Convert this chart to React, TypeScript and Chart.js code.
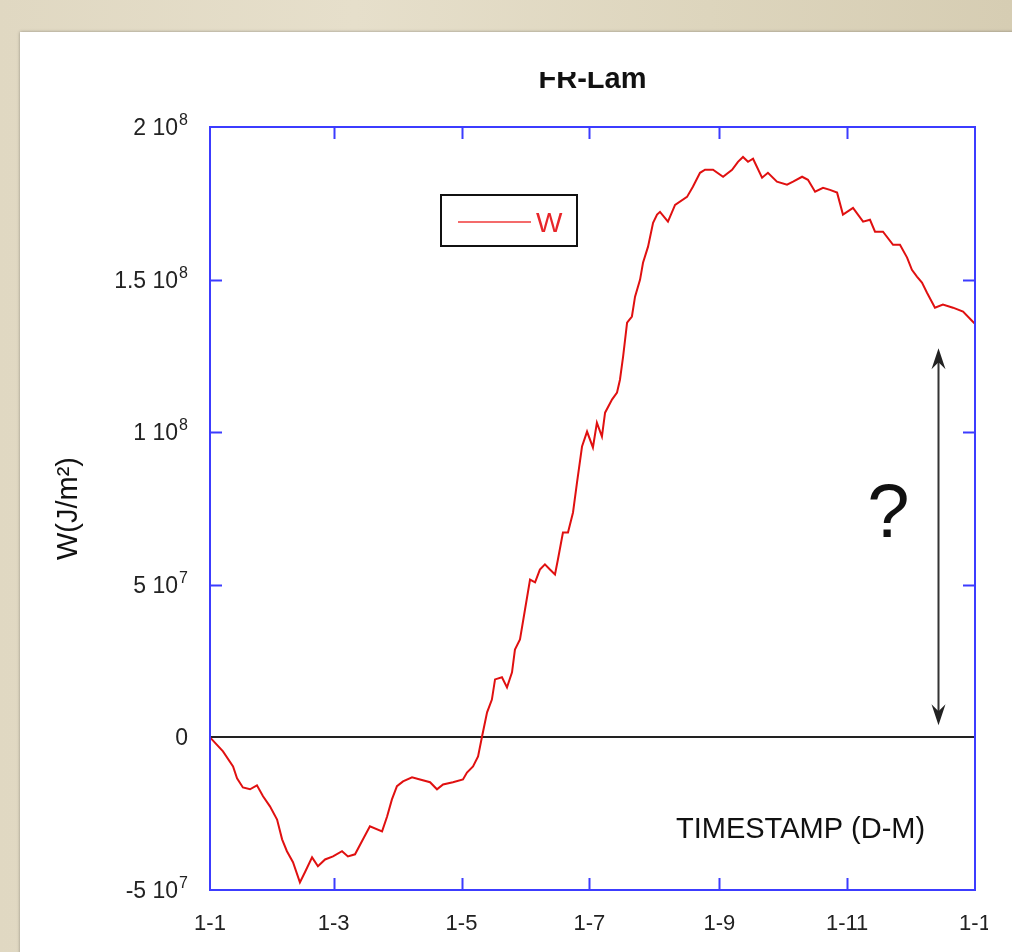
import React, { useEffect, useRef } from 'react';
import { Chart, registerables } from 'chart.js';

Chart.register(...registerables);

// Day of year (0 = 1 Jan) for each sample of W
const dayOfYear = [
  0, 6.2, 11.0, 12.9, 15.7, 19.1, 22.4, 25.3, 28.6, 32.0,
  34.4, 36.7, 39.6, 42.9, 45.3, 48.7, 51.5, 54.9, 58.7, 63.0,
  65.8, 69.2, 73.0, 76.3, 82.1, 84.5, 86.8, 89.2, 92.1, 96.4,
  100.2, 105.0, 108.3, 111.2, 115.9, 120.7, 122.6, 125.5, 127.9, 129.8,
  132.2, 134.5, 136.0, 139.3, 141.7, 144.1, 145.5, 147.9, 150.3, 152.7,
  155.1, 157.4, 159.8, 162.2, 164.6, 166.0, 168.4, 170.8, 173.2, 175.1,
  177.5, 179.9, 182.7, 184.6, 187.0, 188.5, 191.8, 194.2, 195.6, 197.1,
  199.0, 201.3, 202.8, 205.2, 206.6, 209.0, 211.4, 213.3, 214.7, 218.5,
  221.9, 227.6, 230.4, 233.8, 236.2, 240.0, 244.8, 249.1, 251.9, 254.3,
  256.7, 259.1, 263.4, 266.2, 270.5, 275.3, 278.2, 282.5, 285.3, 288.7,
  292.5, 295.8, 299.2, 302.0, 306.8, 311.6, 314.9, 317.3, 321.1, 325.9,
  329.2, 332.6, 334.9, 337.3, 339.7, 342.1, 345.9, 349.7, 354.5, 359.3,
  364.0, 365,
];

// W in units of 10^6 J/m²
const wValuesE6 = [
  0, -4.6, -9.5, -13.4, -16.4, -17.0, -15.7, -19.3, -22.6, -26.9,
  -33.4, -37.3, -40.9, -47.5, -44.2, -39.3, -42.2, -40.0, -39.0, -37.3,
  -39.0, -38.3, -33.4, -29.1, -30.8, -25.9, -20.3, -16.0, -14.4, -13.1,
  -13.8, -14.7, -17.0, -15.4, -14.7, -13.8, -11.5, -9.5, -6.2, 0.3,
  8.2, 12.4, 19.0, 19.7, 16.4, 21.3, 28.8, 32.1, 41.9, 51.7,
  50.8, 55.0, 56.7, 55.0, 53.4, 58.3, 67.1, 67.1, 73.7, 83.5,
  95.3, 100.2, 95.0, 103.1, 98.6, 106.4, 110.7, 113.0, 117.2, 124.8,
  135.9, 137.9, 144.4, 150.0, 155.5, 160.8, 168.6, 171.3, 172.2, 169.0,
  174.5, 177.1, 180.4, 185.0, 186.0, 186.0, 183.7, 186.0, 188.6, 190.2,
  188.6, 189.6, 183.4, 185.0, 182.1, 181.1, 182.1, 183.7, 182.7, 178.8,
  180.1, 179.4, 178.5, 171.3, 173.5, 169.0, 169.6, 165.7, 165.7, 161.4,
  161.4, 157.2, 153.2, 151.0, 149.0, 145.7, 140.8, 141.8, 140.8, 139.5,
  136.2, 135.5,
];

const xTickDays = [0, 59, 120, 181, 243, 304, 365];
const xTickLabels = ['1-1', '1-3', '1-5', '1-7', '1-9', '1-11', '1-1'];
const yTickValues = [-5e7, 0, 5e7, 1e8, 1.5e8, 2e8];
const yTickMantissa = ['-5 10', '0', '5 10', '1 10', '1.5 10', '2 10'];
const yTickExponent = ['7', '', '7', '8', '8', '8'];

const chartTitle = 'FR-Lam';
const seriesName = 'W';
const yAxisTitle = 'W(J/m\u00B2)';
const xAxisTitle = 'TIMESTAMP (D-M)';

// annotation: double arrow with question mark (data units)
const arrowDay = 347.3;
const arrowFromValue = 4.0e6;
const arrowToValue = 1.275e8;
const arrowText = '?';

const FONT = '"Liberation Sans", Arial, sans-serif';
const BLUE = '#3c3cff';
const TICK_FONT = 23;
const EXP_FONT = 16;

function drawArrowHead(ctx: CanvasRenderingContext2D, x: number, y: number, dir: number) {
  ctx.beginPath();
  ctx.moveTo(x, y);
  ctx.lineTo(x - 7, y - dir * 21);
  ctx.lineTo(x, y - dir * 14);
  ctx.lineTo(x + 7, y - dir * 21);
  ctx.closePath();
  ctx.fill();
}

const decorPlugin = {
  id: 'decor',
  afterDatasetsDraw(chart: any) {
    const { ctx, chartArea } = chart;
    const xs = chart.scales.x;
    const ys = chart.scales.y;
    const { left, right, top, bottom } = chartArea;
    ctx.save();

    // inward ticks
    ctx.strokeStyle = BLUE;
    ctx.lineWidth = 2;
    ctx.beginPath();
    yTickValues.forEach((v, i) => {
      if (i === 0 || i === yTickValues.length - 1 || v === 0) return;
      const py = Math.round(ys.getPixelForValue(v)) + 0.5;
      ctx.moveTo(left, py);
      ctx.lineTo(left + 12, py);
      ctx.moveTo(right, py);
      ctx.lineTo(right - 12, py);
    });
    xTickDays.forEach((d, i) => {
      if (i === 0 || i === xTickDays.length - 1) return;
      const px = Math.round(xs.getPixelForValue(d)) + 0.5;
      ctx.moveTo(px, bottom);
      ctx.lineTo(px, bottom - 12);
      ctx.moveTo(px, top);
      ctx.lineTo(px, top + 12);
    });
    ctx.stroke();

    // frame
    ctx.strokeRect(left, top, right - left, bottom - top);

    // y tick labels with raised exponents
    const labelRight = left - 22;
    yTickValues.forEach((v, i) => {
      const py = ys.getPixelForValue(v);
      const exp = yTickExponent[i];
      ctx.fillStyle = '#222';
      ctx.font = `${EXP_FONT}px ${FONT}`;
      const expW = exp ? ctx.measureText(exp).width : 0;
      if (exp) {
        ctx.textAlign = 'right';
        ctx.textBaseline = 'alphabetic';
        ctx.fillText(exp, labelRight, py - 2);
      }
      ctx.font = `${TICK_FONT}px ${FONT}`;
      ctx.textAlign = 'right';
      ctx.textBaseline = 'alphabetic';
      ctx.fillText(yTickMantissa[i], labelRight - (exp ? expW + 1 : 0), py + 8);
    });

    // legend box
    const lx = left + 231;
    const ly = top + 68;
    ctx.fillStyle = '#ffffff';
    ctx.fillRect(lx, ly, 136, 51);
    ctx.strokeStyle = '#111';
    ctx.lineWidth = 2;
    ctx.strokeRect(lx, ly, 136, 51);
    ctx.strokeStyle = '#f03a3a';
    ctx.lineWidth = 1.5;
    ctx.beginPath();
    ctx.moveTo(lx + 17, ly + 27);
    ctx.lineTo(lx + 90, ly + 27);
    ctx.stroke();
    ctx.fillStyle = '#e8262a';
    ctx.font = `28px ${FONT}`;
    ctx.textAlign = 'left';
    ctx.textBaseline = 'alphabetic';
    ctx.fillText(seriesName, lx + 95, ly + 37);

    // x axis title inside plot
    ctx.fillStyle = '#111';
    ctx.font = `29px ${FONT}`;
    ctx.fillText(xAxisTitle, left + 466, bottom - 52);

    // arrow
    const ax = Math.round(xs.getPixelForValue(arrowDay)) + 0.5;
    const ay1 = ys.getPixelForValue(arrowToValue);
    const ay2 = ys.getPixelForValue(arrowFromValue);
    ctx.strokeStyle = '#333';
    ctx.fillStyle = '#222';
    ctx.lineWidth = 2;
    ctx.beginPath();
    ctx.moveTo(ax, ay1 + 10);
    ctx.lineTo(ax, ay2 - 10);
    ctx.stroke();
    drawArrowHead(ctx, ax, ay1, -1);
    drawArrowHead(ctx, ax, ay2, 1);

    ctx.fillStyle = '#111';
    ctx.font = `76px ${FONT}`;
    ctx.textAlign = 'center';
    ctx.fillText(arrowText, ax - 50, (ay1 + ay2) / 2);

    // title (top clipped, as in the reference)
    ctx.save();
    ctx.beginPath();
    ctx.rect(0, 72, chart.width, chart.height);
    ctx.clip();
    ctx.fillStyle = '#111';
    ctx.font = `bold 29px ${FONT}`;
    ctx.textAlign = 'center';
    ctx.fillText(chartTitle, (left + right) / 2, 88);
    ctx.restore();

    ctx.restore();
  },
};

export default function App() {
  const canvasRef = useRef<HTMLCanvasElement | null>(null);

  useEffect(() => {
    if (!canvasRef.current) return;
    const chart = new Chart(canvasRef.current, {
      type: 'line',
      data: {
        datasets: [
          {
            label: seriesName,
            data: dayOfYear.map((d, i) => ({ x: d, y: wValuesE6[i] * 1e6 })),
            borderColor: '#e01010',
            borderWidth: 2,
            pointRadius: 0,
            tension: 0,
            fill: false,
          },
        ],
      },
      options: {
        responsive: false,
        animation: false,
        devicePixelRatio: 1,
        layout: { padding: { left: 20, top: 127, right: 37, bottom: 22 } },
        plugins: {
          legend: { display: false },
          title: { display: false },
          tooltip: { enabled: false },
        },
        scales: {
          x: {
            type: 'linear',
            min: 0,
            max: 365,
            afterBuildTicks: (scale: any) => {
              scale.ticks = xTickDays.map((v) => ({ value: v }));
            },
            afterFit: (scale: any) => {
              scale.height = 40;
            },
            ticks: {
              autoSkip: false,
              maxRotation: 0,
              padding: 21,
              color: '#222',
              font: { family: FONT, size: 22 },
              callback: (_v: any, i: number) => xTickLabels[i],
            },
            grid: { display: false, drawTicks: false },
            border: { display: false },
          },
          y: {
            min: -5e7,
            max: 2e8,
            afterBuildTicks: (scale: any) => {
              scale.ticks = yTickValues.map((v) => ({ value: v }));
            },
            afterFit: (scale: any) => {
              scale.width = 190;
            },
            ticks: {
              autoSkip: false,
              padding: 22,
              color: 'rgba(0,0,0,0)',
              font: { family: FONT, size: TICK_FONT },
              callback: (_v: any, i: number) => yTickMantissa[i] + (yTickExponent[i] ? ' ' + yTickExponent[i] : ''),
            },
            grid: {
              drawTicks: false,
              lineWidth: 2,
              color: (c: any) => (c.tick && c.tick.value === 0 ? '#222' : 'rgba(0,0,0,0)'),
            },
            border: { display: false },
            title: {
              display: true,
              text: yAxisTitle,
              color: '#111',
              font: { family: FONT, size: 29 },
              padding: { top: 32, bottom: 0 },
            },
          },
        },
      },
      plugins: [decorPlugin],
    } as any);
    return () => chart.destroy();
  }, []);

  return (
    <div
      style={{
        position: 'fixed',
        left: 0,
        top: 0,
        width: 1012,
        height: 952,
        overflow: 'hidden',
        background: 'linear-gradient(90deg, #e0d8c2 0%, #e6dfcb 35%, #ddd5bd 70%, #d6cdb3 100%)',
      }}
    >
      <div
        style={{
          position: 'absolute',
          left: 20,
          top: 32,
          width: 1100,
          height: 1000,
          background: '#ffffff',
          boxShadow: '0 0 3px rgba(0,0,0,0.35)',
        }}
      />
      <div style={{ position: 'absolute', left: 0, top: 0, width: 988, height: 952, overflow: 'hidden' }}>
        <canvas ref={canvasRef} width={1012} height={952} style={{ display: 'block', width: 1012, height: 952 }} />
      </div>
    </div>
  );
}
